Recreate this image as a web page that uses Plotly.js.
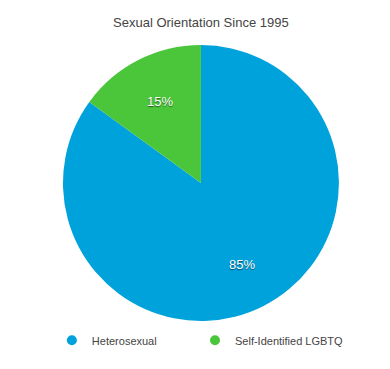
<!DOCTYPE html>
<html>
<head>
<meta charset="utf-8">
<script src="https://cdn.plot.ly/plotly-3.0.1.min.js"></script>
<style>html,body{margin:0;padding:0;background:#fff;}#chart{width:390px;height:369px;}</style>
</head>
<body>
<div id="chart"></div>
<script>
const categories = ["Heterosexual", "Self-Identified LGBTQ"];
const shares = [85, 15];
const sliceColors = ["#00A2DC", "#4BC63A"];

const FONT = "Liberation Sans, Arial, Helvetica, sans-serif";
const W = 390, H = 369;
const dom = {x: [0.1615, 0.869], y: [0.13, 0.878]};
const legendIds = ["legend", "legend2"];

const traces = [{
  type: "pie",
  labels: categories,
  values: shares,
  sort: false,
  direction: "clockwise",
  rotation: 0,
  marker: {colors: sliceColors, line: {width: 0}},
  textinfo: "none",
  hoverinfo: "none",
  showlegend: false,
  domain: dom
}];
categories.forEach((c, i) => {
  traces.push({
    type: "scatter", mode: "markers", x: [null], y: [null], name: c,
    marker: {symbol: "circle", size: 10, color: sliceColors[i]},
    showlegend: true, hoverinfo: "none", legend: legendIds[i]
  });
});

// slice labels placed at 0.66 of the radius along each slice's mid-angle
const total = shares.reduce((a, b) => a + b, 0);
const cx = (dom.x[0] + dom.x[1]) / 2 * W;
const cy = (1 - (dom.y[0] + dom.y[1]) / 2) * H;
const R = Math.min((dom.x[1] - dom.x[0]) * W, (dom.y[1] - dom.y[0]) * H) / 2;
let cum = 0;
const annotations = shares.map((v) => {
  const mid = (cum + v / 2) / total * 2 * Math.PI;
  cum += v;
  const px = cx + 0.66 * R * Math.sin(mid);
  const py = cy - 0.66 * R * Math.cos(mid);
  return {
    xref: "paper", yref: "paper", x: px / W, y: 1 - py / H,
    xanchor: "center", yanchor: "middle", showarrow: false,
    text: v + "%",
    font: {family: FONT, size: 13, color: "#ffffff", shadow: "0px 1px 1px rgba(0,0,0,0.55)"}
  };
});

const legendBase = {orientation: "h", xanchor: "left", y: 0.078, yanchor: "middle",
  font: {family: FONT, size: 11, color: "#444444"}, itemwidth: 30, bgcolor: "rgba(0,0,0,0)"};

const layout = {
  width: W, height: H,
  margin: {l: 0, r: 0, t: 0, b: 0},
  paper_bgcolor: "#ffffff", plot_bgcolor: "#ffffff",
  title: {text: "Sexual Orientation Since 1995", font: {family: FONT, size: 13, color: "#444444"}, x: 0.515, xanchor: "center", y: 0.94, yanchor: "middle"},
  xaxis: {visible: false}, yaxis: {visible: false},
  showlegend: true,
  annotations: annotations,
  legend: Object.assign({}, legendBase, {x: 0.133}),
  legend2: Object.assign({}, legendBase, {x: 0.50})
};
Plotly.newPlot("chart", traces, layout, {displayModeBar: false, staticPlot: true});
</script>
</body>
</html>
